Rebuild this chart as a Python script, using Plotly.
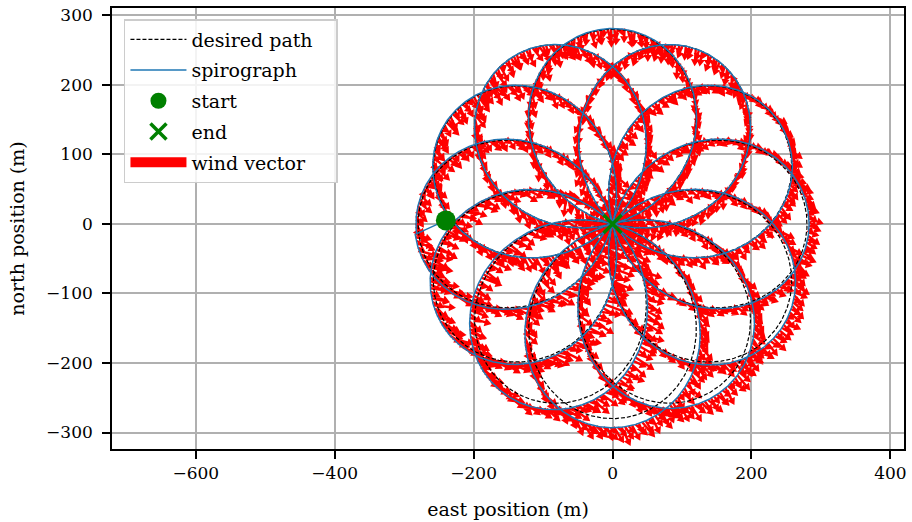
import numpy as np
import plotly.graph_objects as go

# ---- spirograph definition -------------------------------------------------
# rose-type spirograph (R/r = 12, pen on the rim): r = reach * cos(k * a)
# 12 petals, visited clockwise starting with the west petal
petal_tip_deg = [180.0, 150.0, 120.0, 90.0, 60.0, 30.0,
                 0.0, -30.0, -60.0, -90.0, -120.0, -150.0]
desired_reach_m = 280.0
petal_k = 6.0 / 5.0

# reach actually flown on each petal (m); the west petal is closed out last
flown_reach_m = [285, 281, 280, 281, 280, 281, 283, 286, 288, 293, 290, 285]
closing_reach_m = 283

start_east, start_north = -240.0, 5.0
end_east, end_north = 0.0, 0.0
# petal angle (rad, from the tip) where the aircraft joins the first petal
join_angle = 0.05

# wind logged along each petal: direction it blows toward (deg) and magnitude (m/s)
wind_dir_deg = [-20, -55, -65, -85, -105, -45, -30, -40, -50, -55, -30, -20]
wind_speed = [26, 23, 23, 22, 20, 18, 18, 21, 23, 24, 26, 27]
closing_wind_dir_deg, closing_wind_speed = -50, 20
# gust modulation cycled over successive samples
gust_scale = [1.0, 0.7, 1.2, 0.9, 0.5, 1.1, 0.8, 1.25, 0.95, 0.6, 1.05]
gust_turn_deg = [0, 9, -7, 14, -12, 5, -3, 11, -9]

x_ticks = [-600, -400, -200, 0, 200, 400]
y_ticks = [-300, -200, -100, 0, 100, 200, 300]
x_range = [-720.6, 419.6]
y_range = [-323.7, 310.5]

# ---- geometry ----------------------------------------------------------------
half_width = np.pi / (2 * petal_k)
arrows_per_petal = 150


def petal(tip_deg, reach, a0=-half_width, a1=half_width, n=400):
    a = np.linspace(a0, a1, n)
    r = reach * np.cos(petal_k * a)
    th = np.deg2rad(tip_deg) + a
    return r * np.cos(th), r * np.sin(th)


# desired path: all petals
dx, dy = [], []
for tip in petal_tip_deg:
    px, py = petal(tip, desired_reach_m)
    dx.append(px)
    dy.append(py)
dx = np.concatenate(dx)
dy = np.concatenate(dy)

# flown path segments: (tip, reach, a0, a1, wind dir, wind speed)
segments = []
for j, (tip, reach) in enumerate(zip(petal_tip_deg, flown_reach_m)):
    a0 = join_angle if j == 0 else -half_width
    segments.append((tip, reach, a0, half_width, wind_dir_deg[j], wind_speed[j]))
segments.append((petal_tip_deg[0], closing_reach_m, -half_width, join_angle,
                 closing_wind_dir_deg, closing_wind_speed))

fx, fy = [np.array([start_east])], [np.array([start_north])]
wind_pts = []
for tip, reach, a0, a1, wdir, wspd in segments:
    px, py = petal(tip, reach, a0, a1)
    fx.append(px)
    fy.append(py)
    n_arrows = max(2, int(arrows_per_petal * (a1 - a0) / (2 * half_width)))
    sx, sy = petal(tip, reach, a0, a1, n=n_arrows)
    for x0, y0 in zip(sx, sy):
        wind_pts.append((x0, y0, wdir, wspd))
fx = np.concatenate(fx)
fy = np.concatenate(fy)

# wind arrows as filled quiver-style polygons (tail at the aircraft position)
m_per_px = (x_range[1] - x_range[0]) / 795.0
shaft_hw = 1.2 * m_per_px
head_hw = 4.2 * m_per_px
head_len = 7.0 * m_per_px
ax_, ay_ = [], []
for i, (x0, y0, wdir, wspd) in enumerate(wind_pts):
    L = wspd * gust_scale[i % len(gust_scale)]
    ang = np.deg2rad(wdir + gust_turn_deg[i % len(gust_turn_deg)])
    ux, uy = np.cos(ang), np.sin(ang)
    nx, ny = -uy, ux
    s = min(1.0, L / head_len)
    hl, hw, sw = head_len * s, head_hw * s, shaft_hw * s
    b = L - hl
    pts = [(0, sw), (b, sw), (b, hw), (L, 0), (b, -hw), (b, -sw), (0, -sw), (0, sw)]
    for t, w in pts:
        ax_.append(x0 + ux * t + nx * w)
        ay_.append(y0 + uy * t + ny * w)
    ax_.append(None)
    ay_.append(None)

# ---- figure ----------------------------------------------------------------
font_family = "DejaVu Serif"
fig = go.Figure()

fig.add_trace(go.Scatter(
    x=ax_, y=ay_, mode="lines", fill="toself", fillcolor="#ff0000",
    line=dict(width=0, color="#ff0000"), showlegend=False, hoverinfo="skip"))
fig.add_trace(go.Scatter(
    x=dx, y=dy, mode="lines", name="desired path\u00a0\u00a0\u00a0",
    line=dict(color="black", width=1.2, dash="4px,2px"),
    legendrank=1, legendgroup="g1"))
fig.add_trace(go.Scatter(
    x=fx, y=fy, mode="lines", name="spirograph",
    line=dict(color="#1f77b4", width=1.5),
    legendrank=2, legendgroup="g2"))
fig.add_trace(go.Scatter(
    x=[start_east], y=[start_north], mode="markers", name="start",
    marker=dict(symbol="circle", size=20, color="#008000"),
    legendrank=3, legendgroup="g3"))
fig.add_trace(go.Scatter(
    x=[end_east], y=[end_north], mode="markers", name="end",
    marker=dict(symbol="x-thin", size=18, color="#008000",
                line=dict(width=3.5, color="#008000")),
    legendrank=4, legendgroup="g4"))
# legend key for the quiver
fig.add_trace(go.Scatter(
    x=[None], y=[None], mode="lines", name="wind vector",
    line=dict(color="#ff0000", width=15),
    legendrank=5, legendgroup="g5"))


def fmt(v):
    return ("\u2212" + str(abs(v))) if v < 0 else str(v)


axis_common = dict(
    showline=True, linecolor="black", linewidth=1.6, mirror=True,
    ticks="outside", ticklen=8, tickwidth=1.6, tickcolor="black",
    showgrid=True, gridcolor="#b0b0b0", gridwidth=1.6,
    zeroline=False,
    tickfont=dict(family=font_family, size=17, color="black"),
)

fig.update_xaxes(range=x_range, tickvals=x_ticks, ticktext=[fmt(v) for v in x_ticks],
                 title=dict(text="east position (m)", standoff=20,
                            font=dict(family=font_family, size=19, color="black")),
                 **axis_common)
fig.update_yaxes(range=y_range, tickvals=y_ticks, ticktext=[fmt(v) for v in y_ticks],
                 ticklabelstandoff=6,
                 title=dict(text="north position (m)", standoff=16,
                            font=dict(family=font_family, size=19, color="black")),
                 **axis_common)

fig.update_layout(
    width=912, height=522,
    margin=dict(l=112, r=5, t=8, b=71),
    plot_bgcolor="white", paper_bgcolor="white",
    font=dict(family=font_family, color="black"),
    showlegend=True,
    legend=dict(
        x=0.0151, y=0.975, xanchor="left", yanchor="top",
        bgcolor="rgba(255,255,255,0.85)", bordercolor="#cccccc", borderwidth=1.5,
        font=dict(family=font_family, size=19, color="black"),
        itemwidth=56, tracegroupgap=3,
    ),
)

fig.write_html("out.html")
